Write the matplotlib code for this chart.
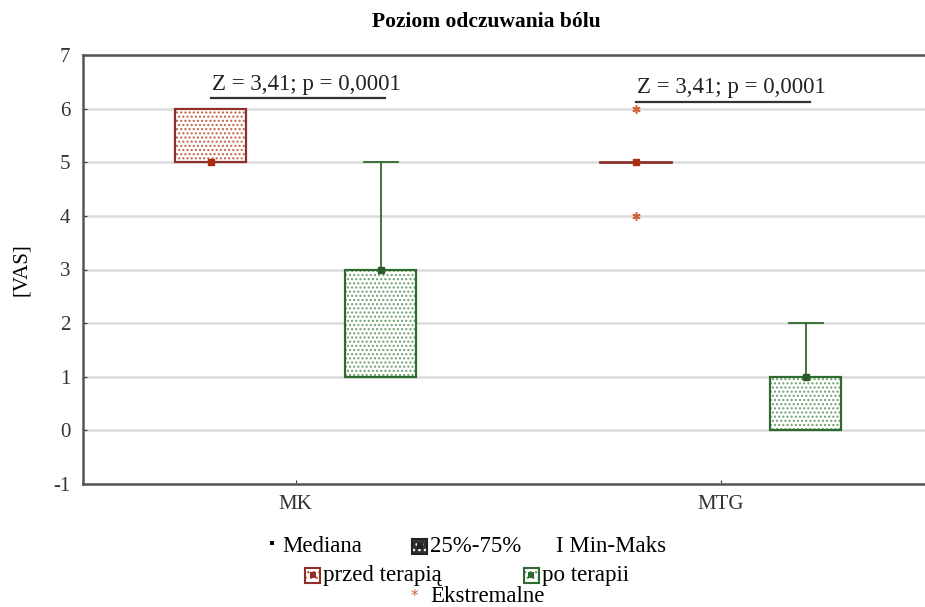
import numpy as np
import matplotlib
matplotlib.use('Agg')
import matplotlib.pyplot as plt
from matplotlib.patches import Rectangle

plt.rcParams['font.family'] = ['Liberation Serif', 'DejaVu Serif']
plt.rcParams['axes.unicode_minus'] = False

# Dane
grupy = ['MK', 'MTG']
warunki = ['przed terapią', 'po terapii']
mediana = {'przed terapią': [5, 5], 'po terapii': [3, 1]}
q1 = {'przed terapią': [5, 5], 'po terapii': [1, 0]}
q3 = {'przed terapią': [6, 5], 'po terapii': [3, 1]}
minimum = {'przed terapią': [5, 5], 'po terapii': [1, 0]}
maksimum = {'przed terapią': [6, 5], 'po terapii': [5, 2]}
ekstremalne = {'przed terapią': [[], [6, 4]], 'po terapii': [[], []]}
opis = ['Z = 3,41; p = 0,0001', 'Z = 3,41; p = 0,0001']
linia_opisu = [6.2, 6.13]

kolory = {'przed terapią': '#8e2f2a', 'po terapii': '#2f6a2f'}
kropki = {'przed terapią': '#c0614a', 'po terapii': '#6e9e6e'}
mediana_kol = {'przed terapią': '#a8300f', 'po terapii': '#2a5a2a'}
przesun = {'przed terapią': -0.2, 'po terapii': 0.2}
szer = 0.165
cap = 0.04

fig = plt.figure(figsize=(9.25, 6.07), dpi=100)
ax = fig.add_axes([83 / 925, 1 - 484 / 607, 850 / 925, (484 - 55) / 607])

x = np.arange(1, len(grupy) + 1)
for w in warunki:
    for i, xi in enumerate(x):
        xc = xi + przesun[w]
        lo, hi = q1[w][i], q3[w][i]
        if hi > lo:
            ax.add_patch(Rectangle((xc - szer / 2, lo), szer, hi - lo, facecolor='white',
                                   edgecolor=kropki[w], hatch='....', linewidth=0, zorder=3))
            ax.add_patch(Rectangle((xc - szer / 2, lo), szer, hi - lo, facecolor='none',
                                   edgecolor=kolory[w], linewidth=1.6, zorder=4))
        else:
            ax.plot([xc - szer / 2, xc + szer / 2], [lo, lo], color=kolory[w], lw=2, zorder=4)
        # wąsy
        if maksimum[w][i] > hi:
            ax.plot([xc, xc], [hi, maksimum[w][i]], color=kolory[w], lw=1.3, zorder=2)
            ax.plot([xc - cap, xc + cap], [maksimum[w][i]] * 2, color=kolory[w], lw=1.3, zorder=2)
        if minimum[w][i] < lo:
            ax.plot([xc, xc], [minimum[w][i], lo], color=kolory[w], lw=1.3, zorder=2)
            ax.plot([xc - cap, xc + cap], [minimum[w][i]] * 2, color=kolory[w], lw=1.3, zorder=2)
        ax.plot(xc, mediana[w][i], 's', color=mediana_kol[w], ms=5, zorder=5)
        for e in ekstremalne[w][i]:
            ax.plot(xc, e, marker=(6, 2, 0), color='#d0603a', ms=6, mew=1.1, zorder=5)

# opisy testu
for i, xi in enumerate(x):
    x0 = xi + przesun['przed terapią']
    x1 = xi + przesun['po terapii'] + 0.01
    ax.plot([x0, x1], [linia_opisu[i]] * 2, color='#333333', lw=1.6, zorder=3)
    ax.text((x0 + x1) / 2 + 0.02, linia_opisu[i] + 0.06, opis[i], ha='center', va='bottom',
            fontsize=16.5, color='#222222')

ax.set_xlim(0.5, 2.5)
ax.set_ylim(-1, 7)
ax.set_yticks(range(-1, 8))
ax.set_xticks(x)
ax.set_xticklabels(grupy)
ax.grid(axis='y', color='#dcdcdc', lw=1.8, zorder=0)
ax.set_axisbelow(True)
ax.tick_params(axis='both', direction='in', length=3, labelsize=15, colors='#333333')
ax.tick_params(axis='y', pad=9)
ax.tick_params(axis='x', pad=8)
for s in ax.spines.values():
    s.set_color('#555555')
    s.set_linewidth(1.8)
ax.set_ylabel('[VAS]', fontsize=15, labelpad=16)

fig.text(486 / 925, 1 - 22 / 607, 'Poziom odczuwania bólu', ha='center', va='center',
         fontsize=15.5, fontweight='bold')

# legenda
def ftxt(px, py, s, **kw):
    fig.text(px / 925, 1 - py / 607, s, va='center', fontsize=16.5, **kw)

def ikona(px, py, kol, krop, tlo='white'):
    w, h = 15 / 925, 15 / 607
    x0, y0 = px / 925, 1 - py / 607 - h / 2
    fig.add_artist(Rectangle((x0, y0), w, h, transform=fig.transFigure, facecolor=tlo,
                             edgecolor=krop, hatch='...', lw=0))
    fig.add_artist(Rectangle((x0, y0), w, h, transform=fig.transFigure, facecolor='none',
                             edgecolor=kol, lw=1.5))
    fig.add_artist(Rectangle((x0 + w * 0.3, y0 + h * 0.3), w * 0.4, h * 0.4,
                             transform=fig.transFigure, facecolor=kol, lw=0))

fig.add_artist(Rectangle((270 / 925, 1 - 545 / 607), 4 / 925, 4 / 607,
                         transform=fig.transFigure, facecolor='black', lw=0))
ftxt(282, 546, 'Mediana')
ikona(412, 546, '#222222', 'white', tlo='#333333')
ftxt(430, 546, '25%-75%')
ftxt(556, 546, 'I Min-Maks')
ikona(305, 575, kolory['przed terapią'], kropki['przed terapią'])
ftxt(323, 575, 'przed terapią')
ikona(524, 575, kolory['po terapii'], kropki['po terapii'])
ftxt(542, 575, 'po terapii')
fig.text(414 / 925, 1 - 596 / 607, '*', va='center', ha='center', fontsize=11,
         color='#d0603a', family='DejaVu Sans')
ftxt(430, 597, 'Ekstremalne')

fig.savefig('out.png', dpi=100)
